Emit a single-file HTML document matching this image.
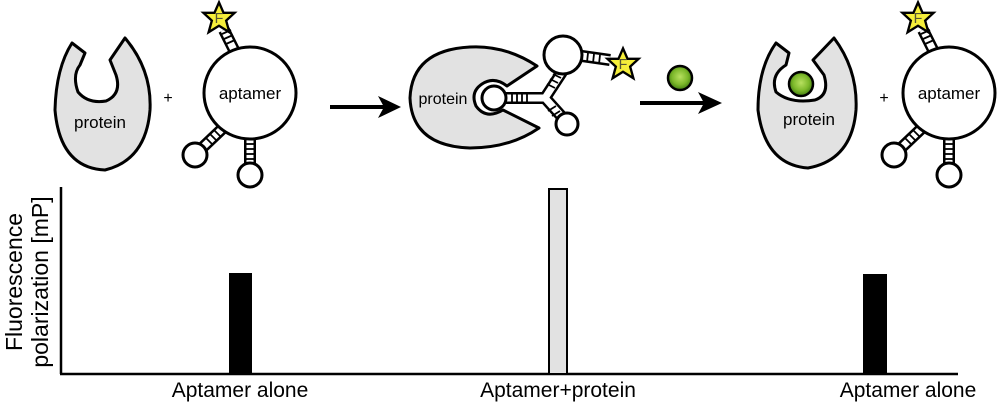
<!DOCTYPE html>
<html><head><meta charset="utf-8"><style>
html,body{margin:0;padding:0;background:#fff;}
svg{display:block}
text{font-family:"Liberation Sans","DejaVu Sans",sans-serif;}
</style></head><body>
<svg width="1000" height="402" viewBox="0 0 1000 402" xmlns="http://www.w3.org/2000/svg">
<defs>
<radialGradient id="g" cx="50%" cy="45%" r="55%">
<stop offset="0" stop-color="#b8e060"/><stop offset="0.6" stop-color="#7cb82a"/><stop offset="1" stop-color="#3f7a10"/></radialGradient>
<g id="star"><g transform="scale(1.3)"><polygon points="0,-12 3.5,-4 12,-4 5.5,2 8,11 0,6 -8,11 -5.5,2 -12,-4 -3.5,-4" fill="#f5ee3a" stroke="#000" stroke-width="1.8"/><text x="0" y="4" font-size="11" text-anchor="middle" fill="#553">F</text></g></g>
<g id="apt">
<line x1="-16" y1="-43" x2="-26" y2="-63" stroke="#000" stroke-width="12"/>
<line x1="-16" y1="-43" x2="-26" y2="-63" stroke="#fff" stroke-width="7"/>
<line x1="-28" y1="36" x2="-48" y2="55" stroke="#000" stroke-width="12"/>
<line x1="-28" y1="36" x2="-48" y2="55" stroke="#fff" stroke-width="7"/>
<line x1="0" y1="45" x2="0" y2="72" stroke="#000" stroke-width="12"/>
<line x1="0" y1="45" x2="0" y2="72" stroke="#fff" stroke-width="7"/>
<g stroke="#000" stroke-width="1.8">
<line x1="-4" y1="51" x2="4" y2="51"/><line x1="-4" y1="56" x2="4" y2="56"/><line x1="-4" y1="61" x2="4" y2="61"/><line x1="-4" y1="66" x2="4" y2="66"/>
<line x1="-30" y1="43" x2="-36" y2="37"/><line x1="-34" y1="47" x2="-40" y2="41"/><line x1="-38" y1="51" x2="-44" y2="45"/>
<line x1="-24" y1="-49" x2="-15" y2="-53"/><line x1="-26" y1="-54" x2="-17" y2="-58"/><line x1="-28" y1="-59" x2="-19" y2="-63"/>
</g>
<circle cx="0" cy="0" r="46" fill="#fff" stroke="#000" stroke-width="3"/>
<circle cx="-55" cy="62" r="12" fill="#fff" stroke="#000" stroke-width="3"/>
<circle cx="0" cy="82" r="12" fill="#fff" stroke="#000" stroke-width="3"/>
<use href="#star" x="-31" y="-75"/>
<text x="0" y="6" font-size="17" text-anchor="middle">aptamer</text>
</g>
</defs>

<path d="M72,43 L85,53 L80,65 Q72,75 78,92 Q88,104 106,101 Q122,94 116,75 L110,60 L125,38 Q152,70 150,110 Q146,160 105,170 Q60,168 55,110 Q56,68 72,43 Z" fill="#e2e2e2" stroke="#000" stroke-width="3" stroke-linejoin="round"/>
<text x="100" y="128" font-size="17" text-anchor="middle">protein</text>
<text x="168" y="103" font-size="16" text-anchor="middle">+</text>
<use href="#apt" x="250" y="93"/>

<line x1="330" y1="107" x2="392" y2="107" stroke="#000" stroke-width="4"/>
<polygon points="401,107 378,96 384,107 378,118" fill="#000"/>

<path d="M537,66 Q505,45 470,47 Q412,50 410,98 Q412,146 470,148 Q510,148 539,128 L503,110 Q486,120 476,106 Q470,92 482,84 Q494,76 507,86 Z" fill="#e2e2e2" stroke="#000" stroke-width="3" stroke-linejoin="round"/>
<text x="443" y="104" font-size="16" text-anchor="middle">protein</text>
<g stroke="#000" stroke-width="12" fill="none"><line x1="505" y1="98" x2="545" y2="98"/><line x1="545" y1="98" x2="562" y2="72"/><line x1="545" y1="98" x2="563" y2="118"/><line x1="575" y1="55" x2="610" y2="60"/></g>
<g stroke="#fff" stroke-width="7" fill="none"><line x1="505" y1="98" x2="545" y2="98"/><line x1="545" y1="98" x2="562" y2="72"/><line x1="545" y1="98" x2="563" y2="118"/><line x1="575" y1="55" x2="610" y2="60"/></g>
<g stroke="#000" stroke-width="1.8">
<line x1="512" y1="94" x2="512" y2="102"/><line x1="517" y1="94" x2="517" y2="102"/><line x1="522" y1="94" x2="522" y2="102"/><line x1="527" y1="94" x2="527" y2="102"/>
<line x1="547" y1="84" x2="555" y2="88"/><line x1="550" y1="79" x2="558" y2="83"/><line x1="553" y1="74" x2="561" y2="78"/>
<line x1="548" y1="111" x2="556" y2="106"/><line x1="552" y1="116" x2="560" y2="111"/><line x1="556" y1="121" x2="564" y2="116"/>
<line x1="588" y1="53" x2="587" y2="62"/><line x1="594" y1="54" x2="593" y2="63"/><line x1="600" y1="55" x2="599" y2="64"/>
</g>
<circle cx="494" cy="98" r="12" fill="#fff" stroke="#000" stroke-width="3"/>
<circle cx="563" cy="55" r="19" fill="#fff" stroke="#000" stroke-width="3"/>
<circle cx="567" cy="124" r="11" fill="#fff" stroke="#000" stroke-width="3"/>
<use href="#star" x="623" y="64"/>

<circle cx="680" cy="78" r="12" fill="url(#g)" stroke="#000" stroke-width="2.5"/>
<line x1="640" y1="103" x2="712" y2="103" stroke="#000" stroke-width="4"/>
<polygon points="722,103 698,92 704,103 698,114" fill="#000"/>

<path d="M776,43 L789,53 L786,65 Q770,75 776,92 Q790,104 815,100 Q830,95 824,75 L813,60 L834,38 Q858,70 856,110 Q852,160 808,168 Q765,165 758,110 Q758,68 776,43 Z" fill="#e2e2e2" stroke="#000" stroke-width="3" stroke-linejoin="round"/>
<circle cx="801" cy="84" r="12" fill="url(#g)" stroke="#000" stroke-width="2.5"/>
<text x="809" y="125" font-size="17" text-anchor="middle">protein</text>
<text x="884" y="103" font-size="16" text-anchor="middle">+</text>
<use href="#apt" x="949" y="93"/>

<line x1="61" y1="187" x2="61" y2="374" stroke="#000" stroke-width="2.5"/>
<line x1="60" y1="374" x2="958" y2="374" stroke="#000" stroke-width="2.5"/>
<rect x="229" y="273" width="23" height="101" fill="#000"/>
<rect x="549" y="189" width="18" height="185" fill="#e2e2e2" stroke="#000" stroke-width="2"/>
<rect x="863" y="274" width="24" height="100" fill="#000"/>
<text x="240" y="397" font-size="21" text-anchor="middle">Aptamer alone</text>
<text x="558" y="397" font-size="21" text-anchor="middle">Aptamer+protein</text>
<text x="908" y="397" font-size="21" text-anchor="middle">Aptamer alone</text>
<text transform="translate(22,282) rotate(-90)" font-size="23" text-anchor="middle">Fluorescence</text>
<text transform="translate(48,282) rotate(-90)" font-size="23" text-anchor="middle">polarization [mP]</text>
</svg>
</body></html>
